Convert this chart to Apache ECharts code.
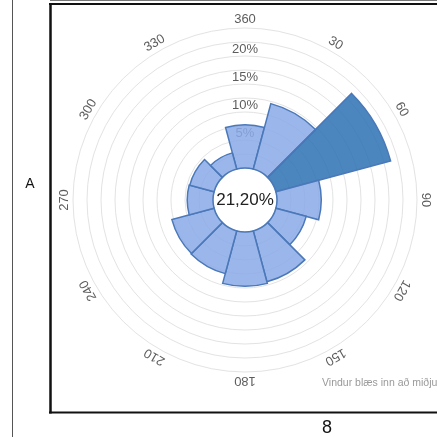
<!DOCTYPE html>
<html>
<head>
<meta charset="utf-8">
<script src="https://cdn.jsdelivr.net/npm/echarts@6/dist/echarts.min.js"></script>
<style>
html,body{margin:0;padding:0;background:#fff;}
#c{width:437px;height:437px;}
</style>
</head>
<body>
<div id="c"></div>
<script>
// ---- data ----
var directions = [0, 30, 60, 90, 120, 150, 180, 210, 240, 270, 300, 330];
var dirLabels = ['360', '30', '60', '90', '120', '150', '180', '210', '240', '270', '300', '330'];
var freq = [7.7, 12.1, 21.2, 7.9, 5.6, 9.4, 9.7, 7.9, 7.8, 4.6, 4.5, 3.0];
var radialTicks = [5, 10, 15, 20];
var centerText = '21,20%';
var noteText = 'Vindur blæs inn að miðju';
var sideLabel = 'A';
var bottomLabel = '8';

var FONT = '"Liberation Sans", Arial, sans-serif';
var CX = 245, CY = 200;
var maxVal = Math.max.apply(null, freq);

var chart = echarts.init(document.getElementById('c'), null, {renderer: 'canvas'});

var barData = freq.map(function (v) {
  return {
    value: v,
    itemStyle: { color: v === maxVal ? 'rgba(44,113,180,0.85)' : 'rgba(137,169,230,0.85)' }
  };
});

var dirLabelData = directions.map(function (d, i) {
  return { value: [26.6, i], name: dirLabels[i], label: { rotate: -d } };
});

var radialLabelData = radialTicks.map(function (t) {
  return { value: [t, 0], name: t + '%' };
});

chart.setOption({
  animation: false,
  backgroundColor: '#fff',
  polar: { center: [CX, CY], radius: [32, 172] },
  angleAxis: {
    type: 'category',
    data: dirLabels,
    startAngle: 105,
    clockwise: true,
    axisLine: { show: false },
    axisTick: { show: false },
    axisLabel: { show: false },
    splitLine: { show: false },
    splitArea: { show: false }
  },
  radiusAxis: {
    type: 'value',
    min: 0,
    max: 25,
    interval: 2.5,
    axisLine: { show: false },
    axisTick: { show: false },
    axisLabel: { show: false },
    splitArea: { show: false },
    splitLine: { show: true, lineStyle: { color: '#e3e3e3', width: 1 } }
  },
  series: [
    {
      type: 'scatter',
      coordinateSystem: 'polar',
      z: 1,
      clip: false,
      silent: true,
      symbolSize: 0,
      data: radialLabelData,
      label: {
        show: true,
        position: 'inside',
        offset: [0, -7],
        formatter: '{b}',
        color: '#333',
        fontSize: 13,
        fontFamily: FONT
      }
    },
    {
      type: 'bar',
      coordinateSystem: 'polar',
      z: 3,
      barCategoryGap: '0%',
      data: barData,
      itemStyle: { borderColor: '#4a78b8', borderWidth: 1.5 }
    },
    {
      type: 'scatter',
      coordinateSystem: 'polar',
      z: 4,
      clip: false,
      silent: true,
      symbolSize: 0,
      data: dirLabelData,
      label: {
        show: true,
        position: 'inside',
        formatter: '{b}',
        color: '#333',
        fontSize: 13,
        fontFamily: FONT
      }
    }
  ],
  graphic: [
    { type: 'line', shape: { x1: 12.5, y1: 0, x2: 12.5, y2: 437 }, style: { stroke: '#555', lineWidth: 1 } },
    { type: 'line', shape: { x1: 50, y1: 0.5, x2: 437, y2: 0.5 }, style: { stroke: '#777', lineWidth: 1 } },
    { type: 'line', shape: { x1: 49, y1: 4, x2: 437, y2: 4 }, style: { stroke: '#111', lineWidth: 2 } },
    { type: 'line', shape: { x1: 50.5, y1: 3, x2: 50.5, y2: 413.5 }, style: { stroke: '#111', lineWidth: 2.5 } },
    { type: 'line', shape: { x1: 49, y1: 412.5, x2: 437, y2: 412.5 }, style: { stroke: '#111', lineWidth: 2 } },
    { type: 'text', x: 30, y: 184, style: { text: sideLabel, font: '14px ' + FONT, fill: '#111', textAlign: 'center', textVerticalAlign: 'middle' } },
    { type: 'text', x: 327, y: 428, style: { text: bottomLabel, font: '18px ' + FONT, fill: '#111', textAlign: 'center', textVerticalAlign: 'middle' } },
    { type: 'text', x: 322, y: 383, style: { text: noteText, font: '10.5px ' + FONT, fill: '#999', textAlign: 'left', textVerticalAlign: 'middle' } },
    { type: 'text', x: CX, y: CY, z: 10, style: { text: centerText, font: '17px ' + FONT, fill: '#222', textAlign: 'center', textVerticalAlign: 'middle' } }
  ]
});
</script>
</body>
</html>
